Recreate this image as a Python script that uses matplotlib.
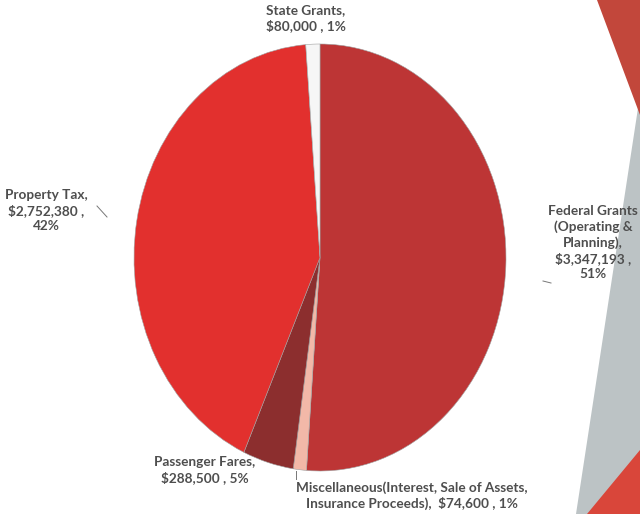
import matplotlib
matplotlib.use("Agg")
import matplotlib.pyplot as plt
from matplotlib.patches import Polygon

# ---- data ----
categories = ["Federal Grants (Operating & Planning)",
              "Miscellaneous(Interest, Sale of Assets, Insurance Proceeds)",
              "Passenger Fares", "Property Tax", "State Grants"]
values = [3347193, 74600, 288500, 2752380, 80000]
label_texts = ["Federal Grants\n(Operating &\nPlanning),\n$3,347,193 ,\n51%",
               "Miscellaneous(Interest, Sale of Assets,\nInsurance Proceeds),  $74,600 , 1%",
               "Passenger Fares,\n$288,500 , 5%",
               "Property Tax,\n$2,752,380 ,\n42%",
               "State Grants,\n$80,000 , 1%"]
colors = ["#bd3535", "#f2b8a8", "#8c2e2e", "#e2302e", "#f6f6f6"]

W, H = 640, 514
fig = plt.figure(figsize=(W / 100, H / 100), dpi=100)
fig.patch.set_facecolor("white")

# background decoration (pixel coordinates, y down)
bg = fig.add_axes([0, 0, 1, 1])
bg.set_xlim(0, W)
bg.set_ylim(H, 0)
bg.axis("off")
bg.add_patch(Polygon([(640, 95), (576, 514), (640, 514)], closed=True,
                     facecolor="#bcc3c5", edgecolor="none"))
bg.add_patch(Polygon([(597, 0), (640, 0), (640, 115)], closed=True,
                     facecolor="#c2473b", edgecolor="none"))
bg.add_patch(Polygon([(587, 514), (640, 514), (640, 450)], closed=True,
                     facecolor="#d9463a", edgecolor="none"))

# pie (elliptical as in the scan)
x0, x1, y0, y1 = 134, 506, 44, 471
ax = fig.add_axes([x0 / W, 1 - y1 / H, (x1 - x0) / W, (y1 - y0) / H])
ax.pie(values, colors=colors, startangle=90, counterclock=False,
       wedgeprops=dict(edgecolor="#a0a0a0", linewidth=0.4))
ax.set_aspect("auto")
ax.set_xlim(-1, 1)
ax.set_ylim(-1, 1)
ax.axis("off")

# labels
font = dict(family=["Lato", "DejaVu Sans"], fontsize=9.8, fontweight="bold",
            color="#4e4e4e", ha="center", va="top", linespacing=1.3)
pos = [(593, 205), (412, 481), (205, 456), (46, 189), (306, 4)]
for (px, py), t in zip(pos, label_texts):
    bg.text(px, py, t, **font)

# leader lines
bg.plot([97, 107], [206, 217], color="#777777", lw=0.7)
bg.plot([543, 551], [281, 283], color="#777777", lw=0.7)
bg.plot([296, 296], [471, 479], color="#777777", lw=0.7)

fig.savefig("out.png", dpi=100)
